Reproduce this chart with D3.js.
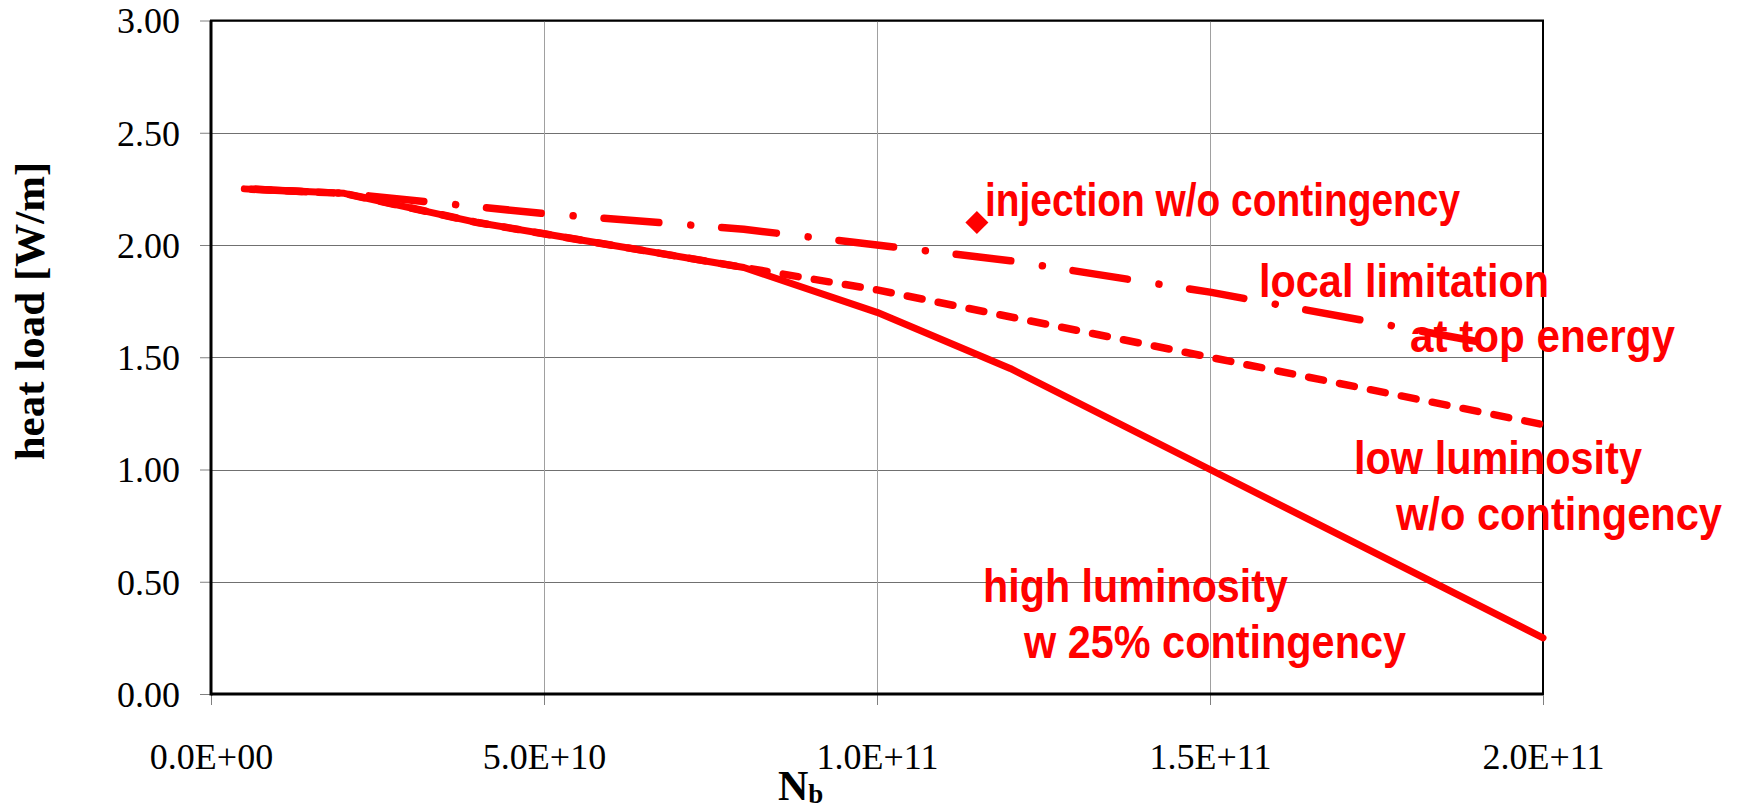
<!DOCTYPE html>
<html>
<head>
<meta charset="utf-8">
<script src="https://cdn.jsdelivr.net/npm/d3@7"></script>
<style>
  body { margin: 0; background: #fff; }
  svg { display: block; }
</style>
</head>
<body>
<svg id="chart" width="1748" height="808"></svg>
<script>
// beam intensity Nb and heat load [W/m]
const highLumiNb = [5e9, 2e10, 4e10, 5e10, 6e10, 8e10, 1e11, 1.2e11, 1.5e11, 2e11];
const highLumiLoad = [2.25, 2.23, 2.10, 2.05, 2.00, 1.90, 1.70, 1.45, 1.00, 0.25];

const lowLumiNb = [5e9, 2e10, 4e10, 5e10, 6e10, 8e10, 1e11, 1.5e11, 2e11];
const lowLumiLoad = [2.25, 2.23, 2.10, 2.05, 2.00, 1.90, 1.80, 1.50, 1.20];

const topEnergyNb = [5e9, 2e10, 5e10, 8e10, 1e11, 1.2e11, 1.5e11, 1.92e11];
const topEnergyLoad = [2.25, 2.23, 2.14, 2.07, 2.00, 1.93, 1.79, 1.56];

const injectionNb = [1.15e11];
const injectionLoad = [2.10];

const xTicks = [0, 5e10, 1e11, 1.5e11, 2e11];
const xTickLabels = ["0.0E+00", "5.0E+10", "1.0E+11", "1.5E+11", "2.0E+11"];
const yTicks = [0, 0.5, 1.0, 1.5, 2.0, 2.5, 3.0];

// annotation texts: [text, left x, baseline y, width]
const notes = [
    ["injection w/o contingency", 985, 216, 475],
    ["local limitation", 1259, 297, 290],
    ["at top energy", 1410, 352, 265],
    ["low luminosity", 1354, 474, 288],
    ["w/o contingency", 1396, 530, 326],
    ["high luminosity", 983, 602, 305],
    ["w 25% contingency", 1024, 658, 382]
];

const red = "#ff0000";
const svg = d3.select("#chart");

const x = d3.scaleLinear().domain([0, 2e11]).range([211, 1543]);
const y = d3.scaleLinear().domain([0, 3]).range([694, 20.5]);

// gridlines
svg.append("g")
    .selectAll("line")
    .data(yTicks.slice(1))
    .join("line")
    .attr("x1", x(0)).attr("x2", x(2e11))
    .attr("y1", d => Math.round(y(d)) + 0.5).attr("y2", d => Math.round(y(d)) + 0.5)
    .attr("stroke", "#707070").attr("stroke-width", 1);

svg.append("g")
    .selectAll("line")
    .data(xTicks.slice(1, -1))
    .join("line")
    .attr("x1", d => Math.round(x(d)) + 0.5).attr("x2", d => Math.round(x(d)) + 0.5)
    .attr("y1", y(3)).attr("y2", y(0))
    .attr("stroke", "#a0a0a0").attr("stroke-width", 1);

// axes
const yAxis = d3.axisLeft(y)
    .tickValues(yTicks)
    .tickFormat(d3.format(".2f"))
    .tickSizeInner(11)
    .tickSizeOuter(0)
    .tickPadding(20);

const xAxis = d3.axisBottom(x)
    .tickValues(xTicks)
    .tickFormat((d, i) => xTickLabels[i])
    .tickSizeInner(11)
    .tickSizeOuter(0)
    .tickPadding(38);

const gy = svg.append("g").attr("transform", `translate(${x(0)},0)`).call(yAxis);
const gx = svg.append("g").attr("transform", `translate(0,${y(0)})`).call(xAxis);

[gx, gy].forEach(g => {
    g.select(".domain").remove();
    g.selectAll(".tick line").attr("stroke", "#808080");
    g.selectAll(".tick text")
        .attr("fill", "#000")
        .style("font-family", "'Liberation Serif', 'Times New Roman', serif")
        .style("font-size", "36px");
});
gy.selectAll(".tick text").attr("dy", "0.34em");

// plot frame
svg.append("rect")
    .attr("x", x(0)).attr("y", y(3))
    .attr("width", x(2e11) - x(0)).attr("height", y(0) - y(3))
    .attr("fill", "none").attr("stroke", "#000").attr("stroke-width", 2);
svg.append("line")
    .attr("x1", x(0)).attr("x2", x(0)).attr("y1", y(3)).attr("y2", y(0) + 1.5)
    .attr("stroke", "#000").attr("stroke-width", 3);
svg.append("line")
    .attr("x1", x(0)).attr("x2", x(2e11)).attr("y1", y(0)).attr("y2", y(0))
    .attr("stroke", "#000").attr("stroke-width", 3);

// series
const line = d3.line().x(d => x(d[0])).y(d => y(d[1]));
const zip = (a, b) => a.map((v, i) => [v, b[i]]);

const highData = zip(highLumiNb, highLumiLoad);
const lowData = zip(lowLumiNb, lowLumiLoad);
const topData = zip(topEnergyNb, topEnergyLoad);

// phase of the dashed line so the dashes line up where it leaves the solid curve
const split = lowLumiNb.indexOf(8e10);
const tmp = svg.append("path").attr("d", line(lowData.slice(0, split + 1)));
const prefixLen = tmp.node().getTotalLength();
tmp.remove();
const dashP = 31.5;
const dashOffset = (dashP - ((prefixLen + 40) % dashP)) % dashP;

svg.append("path")
    .attr("d", line(topData))
    .attr("fill", "none").attr("stroke", red).attr("stroke-width", 7.5)
    .attr("stroke-linecap", "round").attr("stroke-linejoin", "round")
    .attr("stroke-dasharray", "55 32 0.01 31")
    .attr("stroke-dashoffset", 118.01 - 7);

svg.append("path")
    .attr("d", line(lowData))
    .attr("fill", "none").attr("stroke", red).attr("stroke-width", 7.5)
    .attr("stroke-linecap", "round").attr("stroke-linejoin", "round")
    .attr("stroke-dasharray", "15 16.5")
    .attr("stroke-dashoffset", dashOffset);

svg.append("path")
    .attr("d", line(highData))
    .attr("fill", "none").attr("stroke", red).attr("stroke-width", 7)
    .attr("stroke-linecap", "round").attr("stroke-linejoin", "round");

svg.append("g")
    .selectAll("path")
    .data(zip(injectionNb, injectionLoad))
    .join("path")
    .attr("d", d3.symbol(d3.symbolSquare, 265))
    .attr("transform", d => `translate(${x(d[0])},${y(d[1])}) rotate(45)`)
    .attr("fill", red);

// annotations
svg.append("g")
    .selectAll("text")
    .data(notes)
    .join("text")
    .attr("x", d => d[1])
    .attr("y", d => d[2])
    .attr("textLength", d => d[3])
    .attr("lengthAdjust", "spacingAndGlyphs")
    .attr("fill", red)
    .style("font-family", "'Liberation Sans Narrow', 'Liberation Sans', Arial, sans-serif")
    .style("font-weight", "bold")
    .style("font-size", "47px")
    .text(d => d[0]);

// axis titles
svg.append("text")
    .attr("transform", "translate(44,311) rotate(-90)")
    .attr("text-anchor", "middle")
    .style("font-family", "'Liberation Serif', 'Times New Roman', serif")
    .style("font-weight", "bold")
    .style("font-size", "43px")
    .text("heat load [W/m]");

const xt = svg.append("text")
    .attr("x", 778)
    .attr("y", 800)
    .style("font-family", "'Liberation Serif', 'Times New Roman', serif")
    .style("font-weight", "bold")
    .style("font-size", "42px")
    .text("N");
xt.append("tspan")
    .attr("dy", 3)
    .style("font-size", "27px")
    .text("b");
</script>
</body>
</html>
